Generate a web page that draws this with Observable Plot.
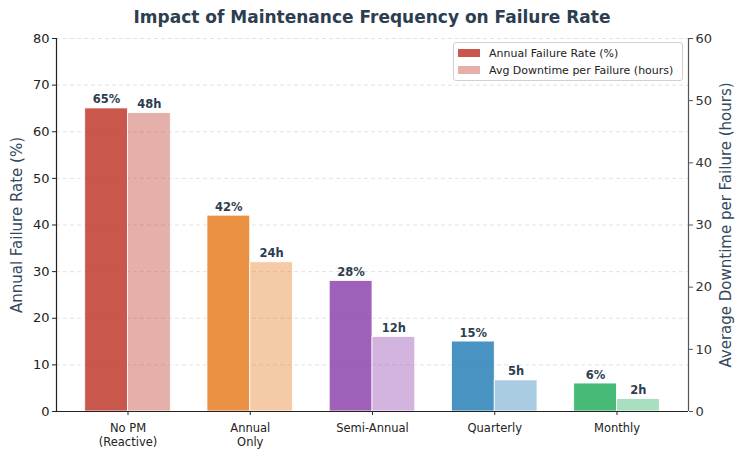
<!DOCTYPE html>
<html>
<head>
<meta charset="utf-8">
<script src="https://cdn.jsdelivr.net/npm/d3@7"></script>
<script src="https://cdn.jsdelivr.net/npm/@observablehq/plot@0.6"></script>
<style>
  body { margin: 0; background: #fff; font-family: "DejaVu Sans", sans-serif; }
  #wrap { position: relative; width: 744px; height: 458px; overflow: hidden; }
  #title { height: 30px; line-height: 34px; text-align: center; font-weight: bold; font-size: 17px; color: #2c3e50; }
  #legend { position: absolute; left: 453px; top: 42px; width: 228px; height: 37px; border: 1px solid #d0d0d0; border-radius: 3px; background: rgba(255,255,255,0.85); font-size: 11px; color: #222; }
  .row { position: absolute; left: 4px; height: 14px; display: flex; align-items: center; }
  .sw { width: 22px; height: 8px; margin-right: 9px; }
</style>
</head>
<body>
<div id="wrap">
  <div id="title">Impact of Maintenance Frequency on Failure Rate</div>
  <div id="chart"></div>
  <div id="legend"></div>
</div>
<script>
const categories = ["No PM\n(Reactive)", "Annual\nOnly", "Semi-Annual", "Quarterly", "Monthly"];
const failureRate = [65, 42, 28, 15, 6];
const downtime = [48, 24, 12, 5, 2];
const colors = ["#c0392b", "#e67e22", "#8e44ad", "#2980b9", "#27ae60"];
const leftTicks = [0, 10, 20, 30, 40, 50, 60, 70, 80];
const rightTicks = [0, 10, 20, 30, 40, 50, 60];
const leftMax = 80, rightMax = 60;
const barW = 0.35;
const xDomain = [-0.585, 4.585];

const ratio = leftMax / rightMax;
const data = categories.map((c, i) => ({
  i, cat: c, rate: failureRate[i], down: downtime[i], downScaled: downtime[i] * ratio, color: colors[i]
}));

const chart = Plot.plot({
  width: 744,
  height: 428,
  marginTop: 8,
  marginBottom: 47,
  marginLeft: 56,
  marginRight: 56,
  style: { fontFamily: "DejaVu Sans, sans-serif", background: "white", overflow: "visible" },
  x: { type: "linear", domain: xDomain, axis: null },
  y: { domain: [0, leftMax], axis: null },
  marks: [
    Plot.ruleY(leftTicks.slice(1), { stroke: "#cccccc", strokeOpacity: 0.7, strokeDasharray: "4,3", strokeWidth: 0.8 }),
    Plot.rectY(data, { x1: d => d.i - barW, x2: d => d.i, y1: 0, y2: "rate", fill: "color", fillOpacity: 0.85, stroke: "white", strokeWidth: 0.8 }),
    Plot.rectY(data, { x1: d => d.i, x2: d => d.i + barW, y1: 0, y2: "downScaled", fill: "color", fillOpacity: 0.4, stroke: "white", strokeWidth: 0.8 }),
    Plot.text(data, { x: d => d.i - barW / 2, y: "rate", text: d => `${d.rate}%`, lineAnchor: "bottom", dy: -5, fontWeight: "bold", fontSize: 11.5, fill: "#2c3e50" }),
    Plot.text(data, { x: d => d.i + barW / 2, y: "downScaled", text: d => `${d.down}h`, lineAnchor: "bottom", dy: -5, fontWeight: "bold", fontSize: 11.5, fill: "#2c3e50" }),
    // spines
    Plot.ruleX([xDomain[0]], { stroke: "#222", strokeWidth: 1.2 }),
    Plot.ruleX([xDomain[1]], { stroke: "#555", strokeWidth: 1.2 }),
    Plot.ruleY([0], { stroke: "#222", strokeWidth: 1.2 }),
    // left axis
    Plot.axisY({ anchor: "left", ticks: leftTicks, tickSize: 4, tickPadding: 3, fontSize: 13, color: "#222", label: null }),
    // right axis (hours) mapped onto the left scale
    Plot.axisY({ anchor: "right", ticks: rightTicks.map(v => v * ratio), tickFormat: v => String(Math.round(v / ratio)), tickSize: 4, tickPadding: 3, fontSize: 13, color: "#333", stroke: "#555", label: null }),
    // x axis
    Plot.axisX({ anchor: "bottom", ticks: categories.map((c, i) => i), tickFormat: i => categories[i], tickSize: 4, tickPadding: 6, fontSize: 11.5, lineHeight: 1.25, color: "#222", label: null }),
    // axis labels
    Plot.text(["Annual Failure Rate (%)"], { frameAnchor: "left", textAnchor: "middle", rotate: -90, dx: -39, fontSize: 15, fill: "#34495e" }),
    Plot.text(["Average Downtime per Failure (hours)"], { frameAnchor: "right", textAnchor: "middle", rotate: -90, dx: 38, fontSize: 15, fill: "#34495e" })
  ]
});
document.getElementById("chart").appendChild(chart);

const legendItems = [
  { label: "Annual Failure Rate (%)", color: colors[0], opacity: 0.85 },
  { label: "Avg Downtime per Failure (hours)", color: colors[0], opacity: 0.4 }
];
const legend = document.getElementById("legend");
legendItems.forEach((it, k) => {
  const row = document.createElement("div");
  row.className = "row";
  row.style.top = (3 + k * 17) + "px";
  const sw = document.createElement("div");
  sw.className = "sw";
  sw.style.background = it.color;
  sw.style.opacity = it.opacity;
  const tx = document.createElement("span");
  tx.textContent = it.label;
  row.appendChild(sw);
  row.appendChild(tx);
  legend.appendChild(row);
});
</script>
</body>
</html>
